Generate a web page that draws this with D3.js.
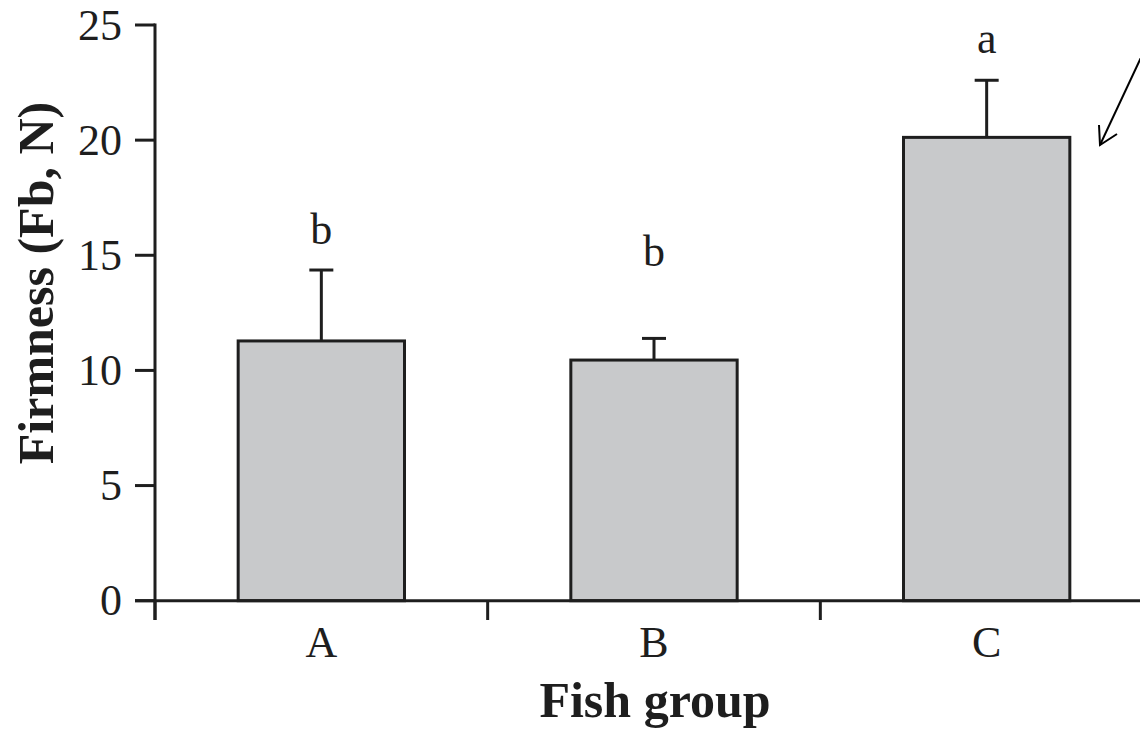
<!DOCTYPE html>
<html>
<head>
<meta charset="utf-8">
<script src="https://cdn.jsdelivr.net/npm/d3@7"></script>
<style>
  html, body { margin: 0; padding: 0; background: #fff; }
  svg { display: block; }
  text { font-family: "Liberation Serif", "Times New Roman", serif; fill: #1e1e1e; }
</style>
</head>
<body>
<svg id="chart" width="1140" height="729"></svg>
<script>
// Fish groups and mean firmness (N) with the upper error (SD)
const groups = ["A", "B", "C"];
const firmness = [11.28, 10.45, 20.12];
const firmnessSD = [3.08, 0.94, 2.48];
// significance letters and the level (N) each is written at
const sigLetters = ["b", "b", "a"];
const sigLevels = [15.5, 14.55, 23.8];
const yTicks = [0, 5, 10, 15, 20, 25];

const svg = d3.select("#chart");
const ink = "#1e1e1e";

const x = d3.scaleBand()
  .domain(groups)
  .range([155, 1153])
  .paddingInner(0.5)
  .paddingOuter(0.25);

const y = d3.scaleLinear()
  .domain([0, 25])
  .range([600.7, 25]);

// bars
svg.append("g").selectAll("rect")
  .data(groups)
  .join("rect")
  .attr("x", d => x(d))
  .attr("y", (d, i) => y(firmness[i]))
  .attr("width", x.bandwidth())
  .attr("height", (d, i) => y(0) - y(firmness[i]))
  .attr("fill", "#c8c9cb")
  .attr("stroke", ink)
  .attr("stroke-width", 3);

// error bars (upper only)
const err = svg.append("g").attr("stroke", ink).attr("stroke-width", 3).attr("fill", "none");
groups.forEach((g, i) => {
  const cx = x(g) + x.bandwidth() / 2;
  const top = y(firmness[i] + firmnessSD[i]);
  err.append("line")
    .attr("x1", cx).attr("x2", cx)
    .attr("y1", y(firmness[i])).attr("y2", top);
  err.append("line")
    .attr("x1", cx - 12).attr("x2", cx + 12)
    .attr("y1", top).attr("y2", top);
});

// significance letters
svg.append("g").selectAll("text")
  .data(groups)
  .join("text")
  .attr("x", d => x(d) + x.bandwidth() / 2)
  .attr("y", (d, i) => y(sigLevels[i]))
  .attr("text-anchor", "middle")
  .attr("font-size", 44)
  .text((d, i) => sigLetters[i]);

// y axis
const yAxis = svg.append("g");
yAxis.append("line")
  .attr("x1", 155).attr("x2", 155)
  .attr("y1", y(25) - 1.5).attr("y2", 620)
  .attr("stroke", ink).attr("stroke-width", 3);
yAxis.selectAll("line.tick")
  .data(yTicks)
  .join("line")
  .attr("class", "tick")
  .attr("x1", 135).attr("x2", 155)
  .attr("y1", d => y(d)).attr("y2", d => y(d))
  .attr("stroke", ink).attr("stroke-width", 3);
yAxis.selectAll("text")
  .data(yTicks)
  .join("text")
  .attr("x", 122)
  .attr("y", d => y(d))
  .attr("dy", "0.33em")
  .attr("text-anchor", "end")
  .attr("font-size", 44)
  .text(d => d);

// x axis
const xAxis = svg.append("g");
xAxis.append("line")
  .attr("x1", 135).attr("x2", 1160)
  .attr("y1", y(0)).attr("y2", y(0))
  .attr("stroke", ink).attr("stroke-width", 3);
const boundaries = d3.range(groups.length + 1).map(i => x.range()[0] + i * x.step());
xAxis.selectAll("line.tick")
  .data(boundaries)
  .join("line")
  .attr("class", "tick")
  .attr("x1", d => d).attr("x2", d => d)
  .attr("y1", y(0)).attr("y2", 620)
  .attr("stroke", ink).attr("stroke-width", 3);
xAxis.selectAll("text")
  .data(groups)
  .join("text")
  .attr("x", d => x(d) + x.bandwidth() / 2)
  .attr("y", 657)
  .attr("text-anchor", "middle")
  .attr("font-size", 44)
  .text(d => d);

// axis titles
svg.append("text")
  .attr("x", 655)
  .attr("y", 717)
  .attr("text-anchor", "middle")
  .attr("font-size", 50)
  .attr("font-weight", "bold")
  .text("Fish group");

svg.append("text")
  .attr("transform", "translate(53,283) rotate(-90)")
  .attr("text-anchor", "middle")
  .attr("font-size", 50)
  .attr("font-weight", "bold")
  .text("Firmness (Fb, N)");

// pointer arrow in the upper right
const tip = [1100, 145];
svg.append("path")
  .attr("d", `M${tip[0] + 45},${tip[1] - 96} L${tip[0]},${tip[1]}`)
  .attr("stroke", "#000").attr("stroke-width", 2).attr("fill", "none");
svg.append("path")
  .attr("d", `M${tip[0] - 1},${tip[1] - 20} L${tip[0]},${tip[1]} L${tip[0] + 17},${tip[1] - 11}`)
  .attr("stroke", "#000").attr("stroke-width", 2).attr("fill", "none");
</script>
</body>
</html>
